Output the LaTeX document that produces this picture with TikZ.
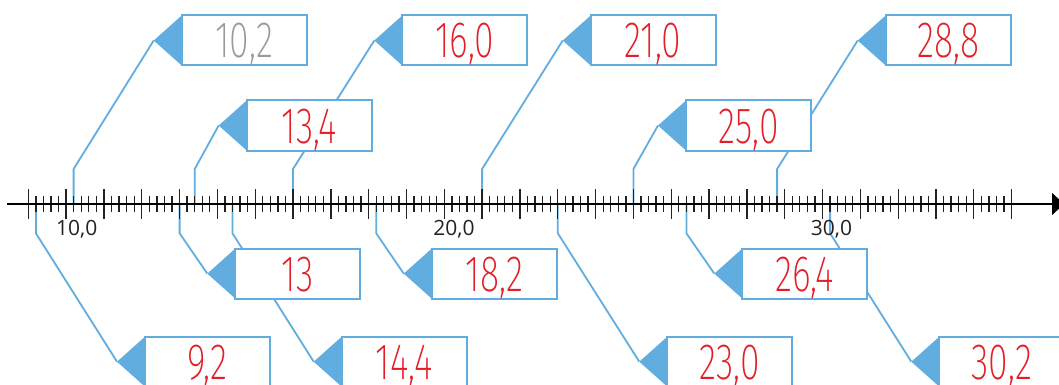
\documentclass[tikz,border=0pt]{standalone}
\usepackage{fontspec}
\setmainfont{Open Sans}
\newfontfamily\handnum[FakeStretch=0.7]{Fira Sans ExtraLight}
\usetikzlibrary{arrows.meta,positioning,backgrounds}

\definecolor{flagblue}{HTML}{62ADDF}
\definecolor{numred}{HTML}{E41E26}
\definecolor{numgray}{HTML}{9A9A9A}
\definecolor{axisgray}{HTML}{222222}

\begin{document}
\begin{tikzpicture}[x=1pt, y=-1pt,
  numbox/.style={rectangle, draw=flagblue, line width=2pt, fill=white, anchor=west, outer sep=0pt, inner sep=0pt, minimum width=125pt, minimum height=50pt, text height=35pt, text depth=0pt, font=\handnum\fontsize{51}{51}\selectfont, text=numred},
  flag/.style={fill=flagblue},
  leader/.style={draw=flagblue, line width=1.8pt},
  tickmark/.style={draw=axisgray, line width=1.3pt},
  axislabel/.style={anchor=base, font=\fontsize{21}{21}\selectfont, text=axisgray}
]
  \useasboundingbox (0,0) rectangle (1059,385);

  % points on the number line
  \coordinate (a92)  at (35.9,204);
  \coordinate (a102) at (73.6,204);
  \coordinate (a130) at (179.6,204);
  \coordinate (a134) at (194.7,204);
  \coordinate (a144) at (232.5,204);
  \coordinate (a160) at (293.0,204);
  \coordinate (a182) at (376.2,204);
  \coordinate (a210) at (482.1,204);
  \coordinate (a230) at (557.8,204);
  \coordinate (a250) at (633.4,204);
  \coordinate (a264) at (686.4,204);
  \coordinate (a288) at (777.1,204);
  \coordinate (a302) at (830.1,204);

  % number line
  \foreach \i in {0,...,130}
    \draw[tickmark] ({28.3+\i*7.564},196) -- ({28.3+\i*7.564},212);
  \foreach \i in {0,...,26}
    \draw[tickmark] ({28.3+\i*37.82},189) -- ({28.3+\i*37.82},219);
  \draw[tickmark, -{Triangle[length=12pt,width=22pt]}, draw=black] (7,204) -- (1064,204);

  \node[axislabel] (l10) at (76.7,235.7) {10,0};
  \node[axislabel] (l20) at (454.0,235.7) {20,0};
  \node[axislabel] (l30) at (831.5,235.7) {30,0};

  % value boxes
  \node[numbox, text=numgray] (n102) at (181.7,40.5) {10,2};
  \node[numbox] (n160) at (402.3,40.5) {16,0};
  \node[numbox] (n210) at (590.7,40.5) {21,0};
  \node[numbox] (n288) at (885.7,40.5) {28,8};
  \node[numbox] (n134) at (246.7,125.5) {13,4};
  \node[numbox] (n250) at (686.0,125.5) {25,0};
  \node[numbox] (n130) at (235.3,273.6) {13};
  \node[numbox] (n182) at (431.7,273.6) {18,2};
  \node[numbox] (n264) at (742.3,273.6) {26,4};
  \node[numbox] (n92)  at (145.0,361.7) {9,2};
  \node[numbox] (n144) at (341.7,361.7) {14,4};
  \node[numbox] (n230) at (667.3,361.7) {23,0};
  \node[numbox] (n302) at (939.3,361.7) {30,2};

  \foreach \n in {102,160,210,288,134,250,130,182,264,92,144,230,302} {
    \coordinate[left=28pt of n\n.west] (t\n);
    \fill[flag] (n\n.north west) -- (t\n) -- (n\n.south west) -- cycle;
  }

  \begin{pgfonlayer}{background}
    % leaders above the line
    \draw[leader] (a102) -- ++(0,-35) -- (t102);
    \draw[leader] (a134) -- ++(0,-35) -- (t134);
    \draw[leader] (a160) -- ++(0,-35) -- (t160);
    \draw[leader] (a210) -- ++(0,-35) -- (t210);
    \draw[leader] (a250) -- ++(0,-35) -- (t250);
    \draw[leader] (a288) -- ++(0,-35) -- (t288);
    % leaders below the line
    \draw[leader] (a92)  -- ++(0,29.3) -- (t92);
    \draw[leader] (a130) -- ++(0,29.3) -- (t130);
    \draw[leader] (a144) -- ++(0,29.3) -- (t144);
    \draw[leader] (a182) -- ++(0,29.3) -- (t182);
    \draw[leader] (a230) -- ++(0,29.3) -- (t230);
    \draw[leader] (a264) -- ++(0,29.3) -- (t264);
    \draw[leader] (a302) -- ++(0,29.3) -- (t302);
  \end{pgfonlayer}
\end{tikzpicture}
\end{document}
